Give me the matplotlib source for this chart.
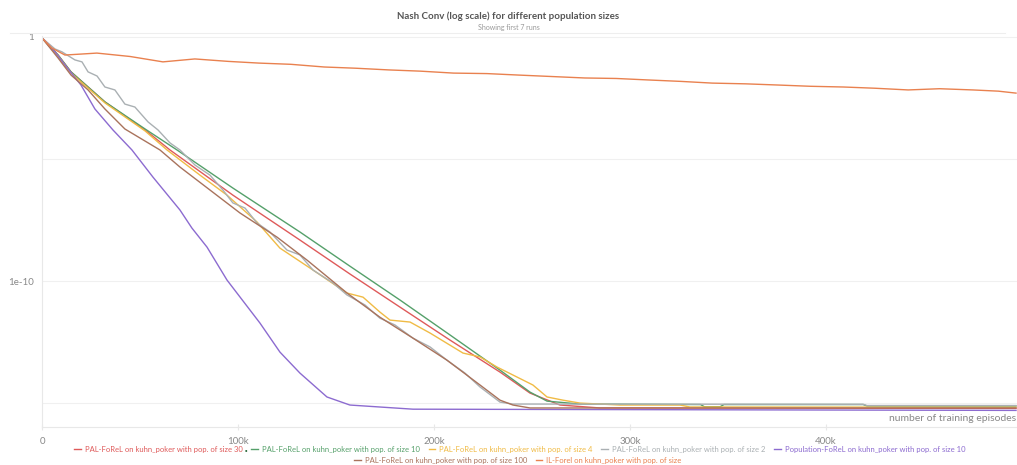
import matplotlib.pyplot as plt
from matplotlib.ticker import FixedLocator, FuncFormatter
from matplotlib.lines import Line2D
import numpy as np

# episodes (thousands) and log10(NashConv)
pop30_x = [0, 8.2, 14.8, 32.1, 52.6, 65.3, 97.4, 131.6, 157.1, 182.7, 208.2, 233.7, 249, 264.3, 284.7, 497]
pop30_y = [-0.04, -0.74, -1.43, -2.66, -3.81, -4.63, -6.48, -8.32, -9.71, -11.07, -12.42, -13.73, -14.59, -15.08, -15.20, -15.22]

pop10_x = [0, 8.2, 14.8, 32.1, 52.6, 68.9, 97.4, 131.6, 157.1, 182.7, 208.2, 233.7, 249, 257.7, 274.5,
           336, 338, 346, 348, 419, 421, 497]
pop10_y = [-0.04, -0.74, -1.43, -2.66, -3.77, -4.63, -6.19, -7.99, -9.39, -10.78, -12.21, -13.65, -14.55, -14.92, -15.04,
           -15.06, -15.15, -15.15, -15.06, -15.06, -15.12, -15.12]

pop4_x = [0, 8.2, 14.8, 32.1, 52.6, 63.8, 80.6, 94.4, 109.7, 121.4, 138.3, 155.6, 163.8, 172.4, 177.6, 187.8,
          198, 214.8, 223.5, 232.1, 240.3, 250.5, 257.7, 265.8, 274.5, 294.9, 325.5, 330.6, 497]
pop4_y = [-0.04, -0.78, -1.48, -2.70, -3.85, -4.63, -5.66, -6.48, -7.58, -8.65, -9.55, -10.49, -10.66, -11.27, -11.60, -11.68,
          -12.13, -12.95, -13.11, -13.52, -13.85, -14.26, -14.75, -14.88, -15.0, -15.08, -15.08, -15.16, -15.17]

pop2_x = [0, 6.6, 10.2, 16.8, 20.4, 23.5, 28.1, 32.1, 37.2, 42.3, 47.4, 54.1, 59.2, 65.3, 70.4, 78.1, 85.7,
          92.3, 97.4, 103.6, 109.7, 116.3, 125, 131.6, 138.3, 148.5, 155.6, 164.8, 172.4, 180.1, 189.3, 198,
          206.6, 215.8, 223.5, 233.7, 240.3, 419, 421, 497]
pop2_y = [-0.04, -0.49, -0.61, -0.94, -1.02, -1.43, -1.60, -2.05, -2.17, -2.75, -2.87, -3.48, -3.81, -4.34, -4.63, -5.25, -5.66,
          -6.27, -6.80, -7.01, -7.62, -7.99, -8.73, -8.93, -9.55, -10.08, -10.57, -10.98, -11.52, -11.80, -12.34, -12.70,
          -13.24, -13.77, -14.34, -14.96, -15.04, -15.05, -15.10, -15.10]

popf10_x = [0, 6.6, 13.3, 19.9, 27.0, 36.2, 45.9, 56.6, 70.4, 76.5, 84.2, 94.4, 111.2, 121.4, 131.6, 145.4,
            157.1, 189.3, 497]
popf10_y = [-0.04, -0.61, -1.31, -1.97, -2.95, -3.81, -4.63, -5.74, -7.09, -7.83, -8.61, -9.96, -11.72, -12.91, -13.77, -14.75,
            -15.08, -15.25, -15.30]

pop100_x = [0, 8.2, 14.8, 23.5, 32.1, 42.3, 60.2, 70.4, 85.7, 101, 119.9, 135.2, 152, 155.6, 172.4, 189.3,
            206.6, 223.5, 233.7, 240.3, 249, 497]
pop100_y = [-0.04, -0.86, -1.56, -2.17, -2.95, -3.77, -4.63, -5.33, -6.27, -7.21, -8.20, -9.14, -10.25, -10.49, -11.48, -12.34,
            -13.24, -14.26, -14.88, -15.08, -15.20, -15.20]

il_x = [0, 5, 11.7, 20, 28, 45, 61.7, 78, 95, 110.7, 127, 144, 160, 177, 193, 210, 227, 243, 260, 277,
        293, 309, 326, 342, 359, 376, 392, 409, 425, 442, 458, 475, 488, 497]
il_y = [-0.04, -0.45, -0.74, -0.70, -0.66, -0.80, -1.02, -0.90, -1.00, -1.07, -1.12, -1.23, -1.28, -1.35, -1.40, -1.48,
        -1.50, -1.56, -1.62, -1.68, -1.70, -1.76, -1.82, -1.89, -1.92, -1.97, -2.02, -2.05, -2.10, -2.17, -2.12, -2.17, -2.22, -2.30]

series = [
    ("PAL-FoReL on kuhn_poker with pop. of size 30", pop30_x, pop30_y, "#df5a5a"),
    ("PAL-FoReL on kuhn_poker with pop. of size 10", pop10_x, pop10_y, "#55a06a"),
    ("PAL-FoReL on kuhn_poker with pop. of size 4", pop4_x, pop4_y, "#f0bb45"),
    ("PAL-FoReL on kuhn_poker with pop. of size 2", pop2_x, pop2_y, "#aab0b3"),
    ("Population-FoReL on kuhn_poker with pop. of size 10", popf10_x, popf10_y, "#8c6bd0"),
    ("PAL-FoReL on kuhn_poker with pop. of size 100", pop100_x, pop100_y, "#a9735c"),
    ("IL-Forel on kuhn_poker with pop. of size", il_x, il_y, "#e9814f"),
]

plt.rcParams['font.family'] = ['Lato', 'DejaVu Sans']

W, H = 1017, 465
fig = plt.figure(figsize=(W / 100, H / 100), dpi=100)
ax = fig.add_axes([42 / W, 38 / H, 975 / W, 391 / H])

handles = []
for label, xs, ys, color in series:
    ln, = ax.plot(np.array(xs) * 1000, 10 ** np.array(ys), color=color, lw=1.0, label=label)
    handles.append(ln)

ax.set_yscale('log')
ax.set_xlim(0, 497500)
ax.set_ylim(10 ** -15.98, 10 ** 0.04)
ax.yaxis.set_major_locator(FixedLocator([1, 1e-5, 1e-10, 1e-15]))
ax.yaxis.set_minor_locator(FixedLocator([]))
ax.yaxis.set_major_formatter(FuncFormatter(lambda v, p: {0: '1', 2: '1e-10'}.get(p, '')))
ax.set_xticks([0, 100000, 200000, 300000, 400000])
ax.xaxis.set_major_formatter(FuncFormatter(lambda v, p: '0' if v == 0 else f'{int(v / 1000)}k'))

ax.grid(axis='y', color='#f0f0f0', lw=0.8)
ax.set_axisbelow(True)
for s in ['top', 'right']:
    ax.spines[s].set_visible(False)
for s in ['left', 'bottom']:
    ax.spines[s].set_color('#e8e8e8')
    ax.spines[s].set_linewidth(0.8)
ax.tick_params(axis='y', length=0, pad=6, labelsize=7, labelcolor='#888888')
ax.tick_params(axis='x', length=4, color='#e8e8e8', direction='inout', pad=5, labelsize=7, labelcolor='#888888')

ax.text(0.999, 9 / 391, 'number of training episodes', transform=ax.transAxes, ha='right', va='center',
        fontsize=7.5, color='#888888')

fig.text(0.5, 1 - 16 / H, 'Nash Conv (log scale) for different population sizes', ha='center', va='center',
         fontsize=7, fontweight='bold', color='#555555')
fig.text(0.5, 1 - 27.5 / H, 'Showing first 7 runs', ha='center', va='center', fontsize=5, color='#999999')
fig.add_artist(Line2D([10 / W, 1005 / W], [1 - 33 / H, 1 - 33 / H], color='#eeeeee', lw=0.8))

leg_kw = dict(frameon=False, fontsize=5.5, labelcolor='linecolor', handlelength=0.9, handletextpad=0.5,
              columnspacing=1.15, borderpad=0, borderaxespad=0)
leg1 = fig.legend(handles=handles[:5], loc='center', bbox_to_anchor=(0.511, 1 - 449 / H), ncol=5, **leg_kw)
fig.legend(handles=handles[5:], loc='center', bbox_to_anchor=(0.509, 1 - 460 / H), ncol=2, **leg_kw)

# small dark-green dot right after the first legend entry
fig.canvas.draw()
bb = leg1.get_texts()[0].get_window_extent()
fig.text((bb.x1 + 4) / W, 1 - 450 / H, '●', fontsize=3, color='#1f5f2f', ha='center', va='center')

fig.savefig('out.png', dpi=100)
